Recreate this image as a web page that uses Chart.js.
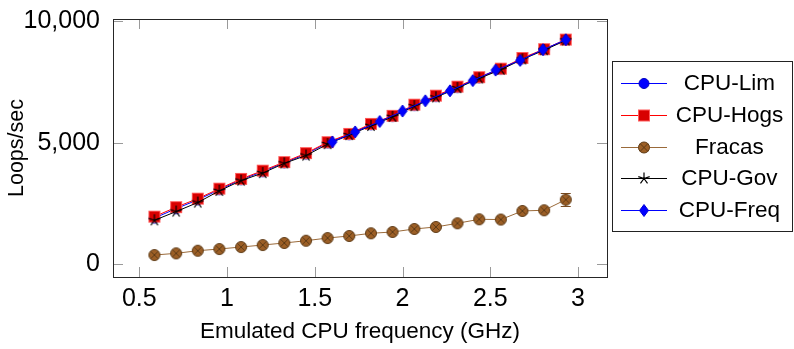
<!DOCTYPE html>
<html>
<head>
<meta charset="utf-8">
<script src="https://cdn.jsdelivr.net/npm/chart.js@4.4.0/dist/chart.umd.min.js"></script>
<style>
  html, body { margin: 0; padding: 0; background: #fff; }
  #wrap { position: relative; width: 794px; height: 349px; font-family: "Liberation Sans", Arial, sans-serif; }
  #legend { position: absolute; left: 612px; top: 61px; width: 181px; height: 171px; border: 1px solid #222; box-sizing: border-box; background: #fff; }
  .row { position: absolute; left: 0; width: 100%; height: 30px; }
  .row canvas { position: absolute; left: 8px; top: 0; }
  .row span { position: absolute; left: 54px; right: 0; top: 0; text-align: center; font-size: 22.5px; line-height: 30px; color: #000; }
</style>
</head>
<body>
<div id="wrap">
  <canvas id="chart" width="794" height="349"></canvas>
  <div id="legend"></div>
</div>
<script>
(function() {
  "use strict";

  // Data
  // --------------------------------------------------
  var freqs = [0.586, 0.710, 0.833, 0.956, 1.080, 1.203, 1.326, 1.450, 1.573, 1.696,
               1.820, 1.943, 2.067, 2.190, 2.313, 2.437, 2.560, 2.683, 2.807, 2.930];
  var cpuLim  = [1900, 2290, 2650, 3070, 3480, 3810, 4170, 4530, 4990, 5330,
                 5740, 6080, 6530, 6900, 7270, 7660, 8020, 8450, 8820, 9220];
  var cpuHogs = [1960, 2350, 2700, 3110, 3510, 3850, 4200, 4570, 5020, 5360,
                 5770, 6100, 6560, 6930, 7300, 7690, 8040, 8480, 8840, 9235];
  var fracas  = [383, 452, 560, 630, 712, 794, 877, 971, 1082, 1165,
                 1276, 1329, 1453, 1535, 1687, 1852, 1840, 2193, 2222, 2658];
  var fracasErr = [0, 0, 0, 0, 0, 0, 0, 0, 0, 0,
                   0, 0, 0, 0, 0, 0, 0, 70, 60, 270];
  var cpuGov  = [1810, 2170, 2540, 3020, 3440, 3750, 4150, 4470, 4940, 5310,
                 5690, 6060, 6500, 6860, 7240, 7640, 8000, 8420, 8800, 9200];
  var pstates = [1.60, 1.73, 1.87, 2.00, 2.13, 2.27, 2.40, 2.53, 2.67, 2.80, 2.93];
  var cpuFreq = [5030, 5440, 5870, 6300, 6720, 7130, 7550, 7980, 8380, 8820, 9230];

  var xTicks = [0.5, 1, 1.5, 2, 2.5, 3];
  var yTicks = [0, 5000, 10000];

  // Markers - Start
  // --------------------------------------------------
  function drawMark(ctx, kind, x, y) {
    ctx.save();
    ctx.lineWidth = 1;
    if (kind === 'circle') {
      ctx.beginPath();
      ctx.arc(x, y, 5, 0, Math.PI * 2);
      ctx.fillStyle = '#0000ff';
      ctx.fill();
      ctx.strokeStyle = '#0000c0';
      ctx.stroke();
    } else if (kind === 'square') {
      ctx.fillStyle = '#d80000';
      ctx.fillRect(x - 5.5, y - 5.5, 11, 11);
      ctx.strokeStyle = '#ff5a5a';
      ctx.strokeRect(x - 5.5, y - 5.5, 11, 11);
    } else if (kind === 'otimes') {
      ctx.beginPath();
      ctx.arc(x, y, 5.5, 0, Math.PI * 2);
      ctx.fillStyle = '#9c5f26';
      ctx.fill();
      ctx.strokeStyle = '#5e3b17';
      ctx.stroke();
      var d = 5.5 * Math.SQRT1_2;
      ctx.beginPath();
      ctx.moveTo(x - d, y - d); ctx.lineTo(x + d, y + d);
      ctx.moveTo(x + d, y - d); ctx.lineTo(x - d, y + d);
      ctx.stroke();
    } else if (kind === 'star') {
      ctx.beginPath();
      for (var k = 0; k < 5; k++) {
        var a = -Math.PI / 2 + k * 2 * Math.PI / 5;
        ctx.moveTo(x, y);
        ctx.lineTo(x + 6 * Math.cos(a), y + 6 * Math.sin(a));
      }
      ctx.strokeStyle = '#000';
      ctx.lineWidth = 1.2;
      ctx.stroke();
    } else if (kind === 'diamond') {
      ctx.beginPath();
      ctx.moveTo(x, y - 6); ctx.lineTo(x + 4.5, y);
      ctx.lineTo(x, y + 6); ctx.lineTo(x - 4.5, y);
      ctx.closePath();
      ctx.fillStyle = '#0000ff';
      ctx.fill();
      ctx.strokeStyle = '#0000d8';
      ctx.stroke();
    }
    ctx.restore();
  }

  function markCanvas(kind) {
    var c = document.createElement('canvas');
    c.width = 16; c.height = 16;
    drawMark(c.getContext('2d'), kind, 8, 8);
    return c;
  }
  // Markers - End
  // --------------------------------------------------

  function pts(xs, ys) {
    return xs.map(function(x, i) { return {x: x, y: ys[i]}; });
  }

  var series = [
    {label: 'CPU-Lim',  mark: 'circle',  color: '#0000ff', data: pts(freqs, cpuLim),  order: 5},
    {label: 'CPU-Hogs', mark: 'square',  color: '#ff0000', data: pts(freqs, cpuHogs), order: 4},
    {label: 'Fracas',   mark: 'otimes',  color: '#9a6a3a', data: pts(freqs, fracas),  order: 3},
    {label: 'CPU-Gov',  mark: 'star',    color: '#000000', data: pts(freqs, cpuGov),  order: 2},
    {label: 'CPU-Freq', mark: 'diamond', color: '#0000ff', data: pts(pstates, cpuFreq), order: 1}
  ];

  // Legend - Start
  // --------------------------------------------------
  var legend = document.getElementById('legend');
  series.forEach(function(s, i) {
    var row = document.createElement('div');
    row.className = 'row';
    row.style.top = (6.3 + i * 31.7) + 'px';
    var ic = document.createElement('canvas');
    ic.width = 50; ic.height = 30;
    var g = ic.getContext('2d');
    g.strokeStyle = s.color;
    g.lineWidth = 1;
    g.beginPath(); g.moveTo(0, 15.5); g.lineTo(46, 15.5); g.stroke();
    drawMark(g, s.mark, 23, 15.5);
    var tx = document.createElement('span');
    tx.textContent = s.label;
    row.appendChild(ic);
    row.appendChild(tx);
    legend.appendChild(row);
  });
  // Legend - End
  // --------------------------------------------------

  // Axis frame, inside ticks, error bars
  // --------------------------------------------------
  var framePlugin = {
    id: 'frame',
    beforeDatasetsDraw: function(chart) {
      var ctx = chart.ctx, a = chart.chartArea;
      var xs = chart.scales.x, ys = chart.scales.y;
      ctx.save();
      ctx.strokeStyle = '#9a9a9a';
      ctx.lineWidth = 1;
      ctx.beginPath();
      xTicks.forEach(function(v) {
        var px = Math.round(xs.getPixelForValue(v)) + 0.5;
        ctx.moveTo(px, a.bottom); ctx.lineTo(px, a.bottom - 10);
        ctx.moveTo(px, a.top); ctx.lineTo(px, a.top + 10);
      });
      yTicks.forEach(function(v) {
        var py = Math.round(ys.getPixelForValue(v)) + 0.5;
        ctx.moveTo(a.left, py); ctx.lineTo(a.left + 10, py);
        ctx.moveTo(a.right, py); ctx.lineTo(a.right - 10, py);
      });
      ctx.stroke();
      ctx.strokeStyle = '#262626';
      ctx.strokeRect(a.left + 0.5, a.top + 0.5, a.right - a.left, a.bottom - a.top);
      ctx.restore();
    },
    beforeDatasetDraw: function(chart, args) {
      if (args.index !== 2) return;
      var ctx = chart.ctx;
      var xs = chart.scales.x, ys = chart.scales.y;
      ctx.save();
      ctx.strokeStyle = '#7a4c22';
      ctx.lineWidth = 1;
      ctx.beginPath();
      freqs.forEach(function(f, i) {
        if (!fracasErr[i]) return;
        var px = xs.getPixelForValue(f);
        var y1 = Math.round(ys.getPixelForValue(fracas[i] + fracasErr[i])) + 0.5;
        var y2 = Math.round(ys.getPixelForValue(fracas[i] - fracasErr[i])) + 0.5;
        ctx.moveTo(px, y1); ctx.lineTo(px, y2);
        ctx.moveTo(px - 5, y1); ctx.lineTo(px + 5, y1);
        ctx.moveTo(px - 5, y2); ctx.lineTo(px + 5, y2);
      });
      ctx.stroke();
      ctx.restore();
    }
  };

  var fam = '"Liberation Sans", Arial, sans-serif';

  new Chart(document.getElementById('chart').getContext('2d'), {
    type: 'line',
    data: {
      datasets: series.map(function(s) {
        return {
          label: s.label,
          data: s.data,
          order: s.order,
          borderColor: s.color,
          backgroundColor: s.color,
          borderWidth: 1,
          tension: 0,
          fill: false,
          pointStyle: markCanvas(s.mark),
          pointRadius: 6,
          pointHoverRadius: 6
        };
      })
    },
    options: {
      responsive: false,
      animation: false,
      events: [],
      layout: {autoPadding: false, padding: {left: 0, top: 19, right: 187, bottom: 0}},
      plugins: {legend: {display: false}, tooltip: {enabled: false}},
      scales: {
        x: {
          type: 'linear',
          min: 0.35,
          max: 3.165,
          afterBuildTicks: function(s) { s.ticks = xTicks.map(function(v) { return {value: v}; }); },
          afterFit: function(s) { s.height = 72; s.paddingLeft = 0; s.paddingRight = 0; },
          grid: {display: false, drawTicks: false},
          border: {display: false},
          ticks: {
            padding: 7,
            color: '#000',
            font: {family: fam, size: 25},
            maxRotation: 0,
            callback: function(v) { return String(v); }
          },
          title: {
            display: true,
            text: 'Emulated CPU frequency (GHz)',
            color: '#000',
            font: {family: fam, size: 22.5},
            padding: {top: 0, bottom: 4}
          }
        },
        y: {
          type: 'linear',
          min: -520,
          max: 10080,
          afterBuildTicks: function(s) { s.ticks = yTicks.map(function(v) { return {value: v}; }); },
          afterFit: function(s) { s.width = 113; s.paddingTop = 0; s.paddingBottom = 0; },
          grid: {display: false, drawTicks: false},
          border: {display: false},
          ticks: {
            padding: 13,
            color: '#000',
            font: {family: fam, size: 25, lineHeight: 0.5},
            callback: function(v) { return v.toLocaleString('en-US'); }
          },
          title: {
            display: true,
            text: 'Loops/sec',
            color: '#000',
            font: {family: fam, size: 21.5},
            padding: {top: 4, bottom: 0}
          }
        }
      }
    },
    plugins: [framePlugin]
  });
})();
</script>
</body>
</html>
